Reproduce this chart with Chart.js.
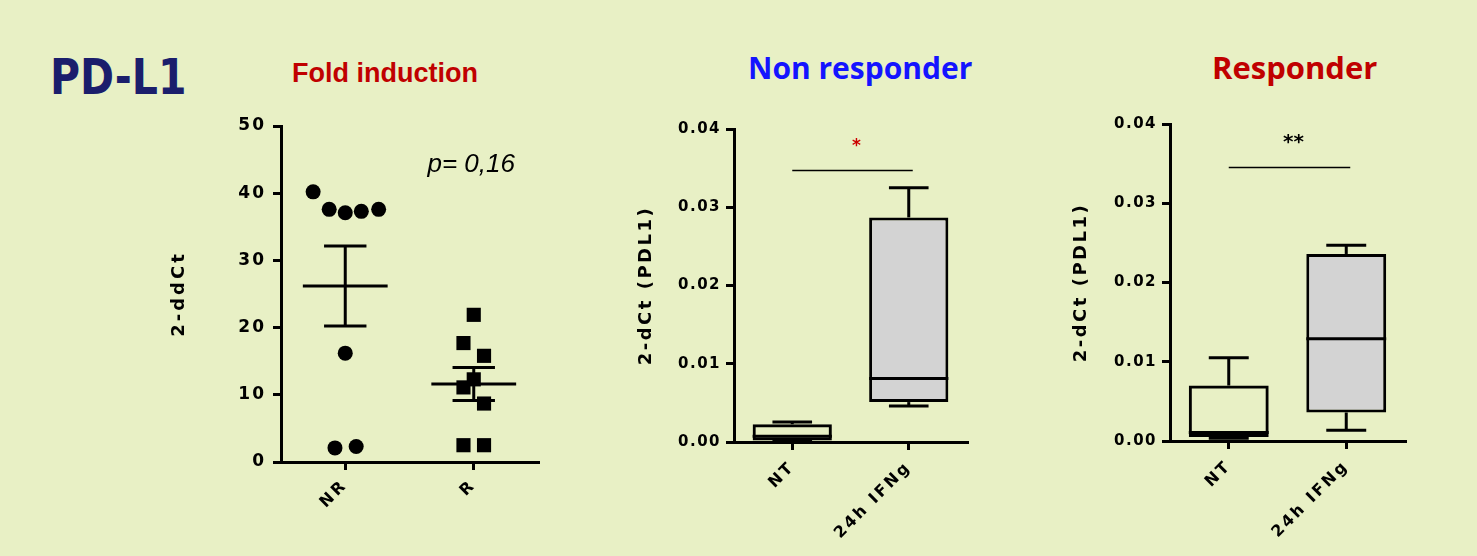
<!DOCTYPE html>
<html>
<head>
<meta charset="utf-8">
<script src="https://cdn.jsdelivr.net/npm/chart.js@4.4.0/dist/chart.umd.min.js"></script>
<style>
body{margin:0;background:#e8f0c5;width:1477px;height:556px;overflow:hidden;position:relative;font-family:"Liberation Sans",Arial,sans-serif}
.t{position:absolute;white-space:nowrap;line-height:1;font-weight:bold}
canvas{position:absolute}
</style>
</head>
<body>
<div class="t" style="left:50px;top:52px;font-family:'DejaVu Sans';font-size:50px;color:#1b1e6c;transform:scaleX(0.82);transform-origin:left top">PD-L1</div>
<div class="t" style="left:292px;top:60px;font-size:27px;color:#c00000">Fold induction</div>
<div class="t" style="left:748px;top:53px;font-family:'Open Sans';font-size:30px;color:#1414ff">Non responder</div>
<div class="t" style="left:1212px;top:52px;font-family:'Open Sans';font-size:31px;color:#c00000">Responder</div>

<canvas id="c1" width="400" height="440" style="left:150px;top:100px"></canvas>
<canvas id="c2" width="360" height="450" style="left:620px;top:100px"></canvas>
<canvas id="c3" width="360" height="455" style="left:1060px;top:95px"></canvas>

<script>
// Fold induction (scatter with mean +/- SEM)
const foldGroups = ['NR', 'R'];
const nrValues = [40.2, 37.6, 37.1, 37.3, 37.6, 16.2, 2.1, 2.3];
const nrJitter = [-0.25, -0.125, 0, 0.125, 0.26, 0, -0.08, 0.085];
const rValues = [21.9, 17.7, 15.8, 12.3, 11.1, 8.7, 2.5, 2.5];
const rJitter = [0, -0.08, 0.08, 0, -0.08, 0.08, -0.08, 0.08];
const foldMean = [26.2, 11.6];
const foldSem = [5.95, 2.45];

// Box plots: NT vs 24h IFNg
const boxGroups = ['NT', '24h IFNg'];
const nonRespMin = [0.0001, 0.0046];
const nonRespQ1 = [0.0002, 0.0051];
const nonRespMedian = [0.00073, 0.0081];
const nonRespQ3 = [0.00227, 0.0287];
const nonRespMax = [0.00256, 0.0325];

const respMin = [0.00034, 0.00135];
const respQ1 = [0.0005, 0.0036];
const respMedian = [0.00107, 0.0129];
const respQ3 = [0.0070, 0.0236];
const respMax = [0.0105, 0.0247];

const boxTicks = [0, 0.01, 0.02, 0.03, 0.04];

const BOLD = 'DejaVu Sans';

// letter spacing for axis texts (canvas letterSpacing), set per scale part
const spacing = {
    id: 'spacing',
    beforeDraw(chart, args, opts){
        for(const id in chart.scales){
            const s = chart.scales[id];
            if(s._spaced) continue;
            const conf = opts[id] || {};
            const dl = s.drawLabels, dt = s.drawTitle;
            s.drawLabels = function(a){ this.ctx.save(); this.ctx.letterSpacing = (conf.ticks || 0) + 'px'; dl.call(this, a); this.ctx.restore(); };
            s.drawTitle = function(a){ this.ctx.save(); this.ctx.letterSpacing = (conf.title || 0) + 'px'; dt.call(this, a); this.ctx.restore(); };
            s._spaced = true;
        }
    }
};

function line(ctx, x1, y1, x2, y2){
    ctx.beginPath();
    ctx.moveTo(x1, y1);
    ctx.lineTo(x2, y2);
    ctx.stroke();
}

const meanSem = {
    id: 'meanSem',
    afterDatasetsDraw(chart){
        const {ctx, scales: {x, y}} = chart;
        ctx.save();
        ctx.strokeStyle = '#000';
        ctx.lineWidth = 3;
        foldGroups.forEach((g, i) => {
            const c = i + 1;
            const hi = foldMean[i] + foldSem[i], lo = foldMean[i] - foldSem[i];
            line(ctx, x.getPixelForValue(c - 0.33), y.getPixelForValue(foldMean[i]), x.getPixelForValue(c + 0.33), y.getPixelForValue(foldMean[i]));
            line(ctx, x.getPixelForValue(c), y.getPixelForValue(hi), x.getPixelForValue(c), y.getPixelForValue(lo));
            line(ctx, x.getPixelForValue(c - 0.165), y.getPixelForValue(hi), x.getPixelForValue(c + 0.165), y.getPixelForValue(hi));
            line(ctx, x.getPixelForValue(c - 0.165), y.getPixelForValue(lo), x.getPixelForValue(c + 0.165), y.getPixelForValue(lo));
        });
        ctx.font = 'italic 26px "Liberation Sans", Arial';
        ctx.fillStyle = '#000';
        ctx.textAlign = 'center';
        ctx.textBaseline = 'alphabetic';
        ctx.fillText('p= 0,16', x.getPixelForValue(1.98), y.getPixelForValue(43.2));
        ctx.restore();
    }
};

const boxWhiskers = {
    id: 'boxWhiskers',
    afterDatasetsDraw(chart, args, opts){
        const {ctx, scales: {y}} = chart;
        const meta = chart.getDatasetMeta(0);
        ctx.save();
        ctx.strokeStyle = '#000';
        ctx.lineWidth = 3;
        meta.data.forEach((bar, i) => {
            const cx = bar.x, half = bar.width / 2, cap = half / 2;
            const yMax = y.getPixelForValue(opts.max[i]), yQ3 = y.getPixelForValue(opts.q3[i]);
            const yMin = y.getPixelForValue(opts.min[i]), yQ1 = y.getPixelForValue(opts.q1[i]);
            const yMed = y.getPixelForValue(opts.median[i]);
            line(ctx, cx, yMax, cx, yQ3);
            line(ctx, cx - cap, yMax, cx + cap, yMax);
            line(ctx, cx, yQ1, cx, yMin);
            line(ctx, cx - cap, yMin, cx + cap, yMin);
            line(ctx, cx - half, yMed, cx + half, yMed);
        });
        // significance bar
        const x = chart.scales.x;
        const x1 = x.getPixelForValue(0), x2 = x.getPixelForValue(1);
        const ys = y.getPixelForValue(opts.sigY);
        ctx.lineWidth = 1.5;
        line(ctx, x1, ys, x2 + 4, ys);
        ctx.font = opts.sigFont;
        ctx.fillStyle = opts.sigColor;
        ctx.textAlign = 'center';
        ctx.textBaseline = 'middle';
        ctx.fillText(opts.sigText, (x1 + x2) / 2 + 6, y.getPixelForValue(opts.sigTextY));
        ctx.restore();
    }
};

function axisGrid(){
    return {drawOnChartArea: false, drawTicks: true, tickLength: 8, lineWidth: 3, color: '#000', offset: false};
}

new Chart(document.getElementById('c1'), {
    type: 'scatter',
    data: {
        datasets: [{
            data: nrValues.map((v, i) => ({x: 1 + nrJitter[i], y: v})),
            pointStyle: 'circle',
            pointRadius: 7.5,
            backgroundColor: '#000',
            borderWidth: 0
        }, {
            data: rValues.map((v, i) => ({x: 2 + rJitter[i], y: v})),
            pointStyle: 'rect',
            pointRadius: 10,
            backgroundColor: '#000',
            borderWidth: 0
        }]
    },
    options: {
        responsive: false,
        animation: false,
        layout: {padding: {top: 26, right: 12, left: 0, bottom: 0}},
        plugins: {
            legend: {display: false},
            tooltip: {enabled: false},
            spacing: {x: {ticks: 3}, y: {ticks: 2, title: 3}}
        },
        scales: {
            x: {
                type: 'linear', min: 0.5, max: 2.5,
                afterBuildTicks: s => { s.ticks = foldGroups.map((g, i) => ({value: i + 1})); },
                ticks: {callback: v => foldGroups[v - 1], minRotation: 45, maxRotation: 45, color: '#000', font: {family: BOLD, size: 16, weight: 'bold'}, padding: 6},
                grid: axisGrid(),
                border: {width: 3, color: '#000'},
                afterFit: s => { s.height = 78; }
            },
            y: {
                min: 0, max: 50,
                ticks: {stepSize: 10, color: '#000', font: {family: BOLD, size: 17, weight: 'bold'}, padding: 7},
                title: {display: true, text: '2-ddCt', color: '#000', font: {family: BOLD, size: 18, weight: 'bold'}, padding: {top: 19, bottom: 0}},
                grid: axisGrid(),
                border: {width: 3, color: '#000'},
                afterFit: s => { s.width = 131; }
            }
        }
    },
    plugins: [spacing, meanSem]
});

function boxChart(id, q1, q3, med, lo, hi, pad, yWidth, xHeight, titlePad, sig){
    new Chart(document.getElementById(id), {
        type: 'bar',
        data: {
            labels: boxGroups,
            datasets: [{
                data: boxGroups.map((g, i) => [q1[i], q3[i]]),
                backgroundColor: ['rgba(0,0,0,0)', '#d3d3d3'],
                borderColor: '#000',
                borderWidth: 3,
                borderSkipped: false,
                barPercentage: 0.68,
                categoryPercentage: 1
            }]
        },
        options: {
            responsive: false,
            animation: false,
            layout: {padding: pad},
            plugins: {
                legend: {display: false},
                tooltip: {enabled: false},
                spacing: {x: {ticks: 2.5}, y: {ticks: 1.5, title: 2.5}},
                boxWhiskers: Object.assign({min: lo, q1: q1, median: med, q3: q3, max: hi}, sig)
            },
            scales: {
                x: {
                    ticks: {minRotation: 45, maxRotation: 45, color: '#000', font: {family: BOLD, size: 16, weight: 'bold'}, padding: 8},
                    grid: axisGrid(),
                    border: {width: 3, color: '#000'},
                    afterFit: s => { s.height = xHeight; }
                },
                y: {
                    min: 0, max: 0.04,
                    afterBuildTicks: s => { s.ticks = boxTicks.map(v => ({value: v})); },
                    ticks: {callback: v => v.toFixed(2), color: '#000', font: {family: BOLD, size: 15, weight: 'bold'}, padding: 5},
                    title: {display: true, text: '2-dCt (PDL1)', color: '#000', font: {family: BOLD, size: 18, weight: 'bold'}, padding: {top: titlePad, bottom: 0}},
                    grid: axisGrid(),
                    border: {width: 3, color: '#000'},
                    afterFit: s => { s.width = yWidth; }
                }
            }
        },
        plugins: [spacing, boxWhiskers]
    });
}

boxChart('c2', nonRespQ1, nonRespQ3, nonRespMedian, nonRespMin, nonRespMax,
    {top: 29, right: 13, left: 0, bottom: 0}, 114, 108, 16,
    {sigY: 0.0347, sigText: '*', sigTextY: 0.0378, sigFont: 'bold 17px "DejaVu Sans"', sigColor: '#cc0000'});

boxChart('c3', respQ1, respQ3, respMedian, respMin, respMax,
    {top: 29, right: 15, left: 0, bottom: 0}, 110, 109, 11,
    {sigY: 0.0345, sigText: '**', sigTextY: 0.0376, sigFont: 'bold 20px "DejaVu Sans"', sigColor: '#000'});
</script>
</body>
</html>
